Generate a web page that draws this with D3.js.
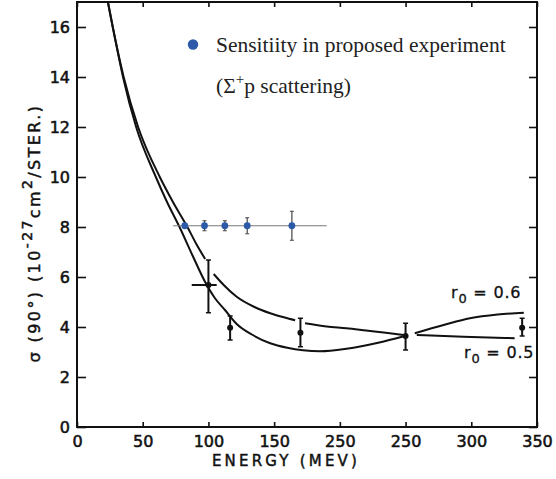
<!DOCTYPE html>
<html>
<head>
<meta charset="utf-8">
<script src="https://cdn.jsdelivr.net/npm/d3@7"></script>
<style>
  body { margin: 0; background: #fff; }
  svg { display: block; }
</style>
</head>
<body>
<div class="content"></div>
<script>
// x axis ticks (the original figure prints 250 twice)
var energyTicks = [0, 50, 100, 150, 200, 250, 300, 350];
var energyTickLabels = ["0", "50", "100", "150", "250", "250", "300", "350"];
var sigmaTicks = [0, 2, 4, 6, 8, 10, 12, 14, 16];

// theory curves [energy MeV, sigma], null = gap in the drawn line
var curveR06 = [[23.5,17],[27.2,16],[35.5,14],[46.5,12],[63,10],[73,9],[84,8],[91,7.3],[97.5,6.72],null,
  [104,6.12],[112,5.66],[121.5,5.21],[135,4.8],[147,4.55],[158,4.38],[166,4.27],null,
  [173.5,4.15],[190,4.02],[205,3.95],[220,3.86],[235,3.77],[248,3.68],null,
  [257,3.75],[279,4.08],[299,4.35],[320,4.5],[340,4.57]];
var curveR05 = [[23.5,17],[27.2,16],[35,14],[45,12],[60,10],[68.5,9],[78,8],[88,6.85],[97.5,5.8],
  [105,5.15],[112.6,4.68],[121.5,4.12],[133,3.7],[147,3.35],[160,3.17],[172,3.07],[185,3.03],
  [205,3.13],[230,3.38],[248,3.62],null,
  [258.5,3.68],[294,3.61],[333,3.55]];

// measured points
var measEnergy = [100, 116.5, 170, 250, 338.7];
var measSigma  = [5.68, 3.97, 3.77, 3.64, 3.97];
var measLow    = [4.57, 3.48, 3.21, 3.08, 3.64];
var measHigh   = [6.68, 4.44, 4.35, 4.15, 4.35];
var measELow   = [87.3, null, null, null, null];
var measEHigh  = [106.3, null, null, null, null];

// proposed experiment sensitivity
var propEnergy = [82, 97, 112.5, 129.5, 163.5];
var propSigma  = [8.05, 8.05, 8.05, 8.05, 8.05];
var propErr    = [0.08, 0.2, 0.2, 0.32, 0.58];
var propLine   = [73, 190];

var W = 556, H = 479;
var svg = d3.select(".content").append("svg")
  .attr("width", W).attr("height", H);

var x = d3.scaleLinear().domain([0, 350]).range([77, 537]);
var y = d3.scaleLinear().domain([0, 17]).range([427, 2]);

var axisFont = "'DejaVu Sans', sans-serif";

// axes
var gx = svg.append("g").attr("transform", "translate(0,427)")
  .call(d3.axisBottom(x).tickValues(energyTicks).tickSize(-5).tickPadding(9)
    .tickFormat(function(d, i) { return energyTickLabels[i]; }));
var gt = svg.append("g").attr("transform", "translate(0,2)")
  .call(d3.axisTop(x).tickValues(energyTicks).tickSize(-5).tickFormat(""));
var gy = svg.append("g").attr("transform", "translate(77,0)")
  .call(d3.axisLeft(y).tickValues(sigmaTicks).tickSize(-9).tickPadding(7));
var gr = svg.append("g").attr("transform", "translate(537,0)")
  .call(d3.axisRight(y).tickValues(sigmaTicks).tickSize(-8).tickFormat(""));

[gx, gt, gy, gr].forEach(function(g) {
  g.select(".domain").remove();
  g.selectAll(".tick line").attr("stroke", "#111").attr("stroke-width", 1.6);
  g.selectAll(".tick text")
    .style("font-family", axisFont).style("font-size", "16px")
    .attr("fill", "#111").attr("stroke", "#111").attr("stroke-width", 0.55);
});

svg.append("rect")
  .attr("x", x(0)).attr("y", y(17))
  .attr("width", x(350) - x(0)).attr("height", y(0) - y(17))
  .attr("fill", "none").attr("stroke", "#111").attr("stroke-width", 2);

// axis titles
svg.append("text")
  .attr("x", 286).attr("y", 466)
  .attr("text-anchor", "middle")
  .style("font-family", axisFont).style("font-size", "15px")
  .style("letter-spacing", "3.2px")
  .attr("fill", "#111").attr("stroke", "#111").attr("stroke-width", 0.45)
  .text("ENERGY (MEV)");

var yl = svg.append("text")
  .attr("transform", "translate(40,233) rotate(-90)")
  .attr("text-anchor", "middle")
  .style("font-family", axisFont).style("font-size", "16px")
  .style("letter-spacing", "2.4px")
  .attr("fill", "#111").attr("stroke", "#111").attr("stroke-width", 0.45);
yl.append("tspan").text("σ (90°) (10");
yl.append("tspan").attr("dy", -8).style("font-size", "14px").text("-27");
yl.append("tspan").attr("dy", 8).text("cm");
yl.append("tspan").attr("dy", -8).style("font-size", "14px").text("2");
yl.append("tspan").attr("dy", 8).text("/STER.)");

// theory curves
var line = d3.line()
  .defined(function(d) { return d !== null; })
  .x(function(d) { return x(d[0]); })
  .y(function(d) { return y(d[1]); })
  .curve(d3.curveMonotoneX);

[curveR06, curveR05].forEach(function(c) {
  svg.append("path").datum(c)
    .attr("d", line)
    .attr("fill", "none").attr("stroke", "#111").attr("stroke-width", 2);
});

// curve labels
function curveLabel(px, py, val) {
  var t = svg.append("text").attr("x", px).attr("y", py)
    .style("font-family", axisFont).style("font-size", "16px")
    .style("letter-spacing", "0.8px")
    .attr("fill", "#111").attr("stroke", "#111").attr("stroke-width", 0.3);
  t.append("tspan").text("r");
  t.append("tspan").attr("dy", 5).style("font-size", "13px").text("0");
  t.append("tspan").attr("dy", -5).text(" = " + val);
}
curveLabel(451, 298, "0.6");
curveLabel(464, 358, "0.5");

// measured points with error bars
var meas = measEnergy.map(function(e, i) {
  return { e: e, s: measSigma[i], lo: measLow[i], hi: measHigh[i], elo: measELow[i], ehi: measEHigh[i] };
});
var mg = svg.append("g").selectAll("g").data(meas).enter().append("g");
mg.append("line")
  .attr("x1", function(d) { return x(d.e); }).attr("x2", function(d) { return x(d.e); })
  .attr("y1", function(d) { return y(d.lo); }).attr("y2", function(d) { return y(d.hi); })
  .attr("stroke", "#111").attr("stroke-width", 2);
["lo", "hi"].forEach(function(k) {
  mg.append("line")
    .attr("x1", function(d) { return x(d.e) - 2.5; }).attr("x2", function(d) { return x(d.e) + 2.5; })
    .attr("y1", function(d) { return y(d[k]); }).attr("y2", function(d) { return y(d[k]); })
    .attr("stroke", "#111").attr("stroke-width", 1.5);
});
mg.filter(function(d) { return d.elo !== null; }).append("line")
  .attr("x1", function(d) { return x(d.elo); }).attr("x2", function(d) { return x(d.ehi); })
  .attr("y1", function(d) { return y(d.s); }).attr("y2", function(d) { return y(d.s); })
  .attr("stroke", "#111").attr("stroke-width", 2);
mg.append("circle")
  .attr("cx", function(d) { return x(d.e); }).attr("cy", function(d) { return y(d.s); })
  .attr("r", 3).attr("fill", "#111");

// proposed experiment
var blue = "#2c5aa8";
svg.append("line")
  .attr("x1", x(propLine[0])).attr("x2", x(propLine[1]))
  .attr("y1", y(propSigma[0])).attr("y2", y(propSigma[0]))
  .attr("stroke", "#777").attr("stroke-width", 1.2);
var prop = propEnergy.map(function(e, i) { return { e: e, s: propSigma[i], err: propErr[i] }; });
var pg = svg.append("g").selectAll("g").data(prop).enter().append("g");
pg.append("line")
  .attr("x1", function(d) { return x(d.e); }).attr("x2", function(d) { return x(d.e); })
  .attr("y1", function(d) { return y(d.s - d.err); }).attr("y2", function(d) { return y(d.s + d.err); })
  .attr("stroke", "#444").attr("stroke-width", 1.2);
[-1, 1].forEach(function(sgn) {
  pg.append("line")
    .attr("x1", function(d) { return x(d.e) - 2; }).attr("x2", function(d) { return x(d.e) + 2; })
    .attr("y1", function(d) { return y(d.s + sgn * d.err); }).attr("y2", function(d) { return y(d.s + sgn * d.err); })
    .attr("stroke", "#444").attr("stroke-width", 1);
});
pg.append("circle")
  .attr("cx", function(d) { return x(d.e); }).attr("cy", function(d) { return y(d.s); })
  .attr("r", 3.4).attr("fill", blue);

// legend
svg.append("circle").attr("cx", 193).attr("cy", 44.5).attr("r", 5.2).attr("fill", blue);
var serif = "'Liberation Serif', 'Times New Roman', serif";
svg.append("text").attr("x", 216).attr("y", 52)
  .style("font-family", serif).style("font-size", "21.5px").attr("fill", "#222")
  .text("Sensitiity in proposed experiment");
var l2 = svg.append("text").attr("x", 216).attr("y", 93)
  .style("font-family", serif).style("font-size", "21.5px").attr("fill", "#222");
l2.append("tspan").text("(Σ");
l2.append("tspan").attr("dy", -9).style("font-size", "15px").text("+");
l2.append("tspan").attr("dy", 9).text("p scattering)");
</script>
</body>
</html>
